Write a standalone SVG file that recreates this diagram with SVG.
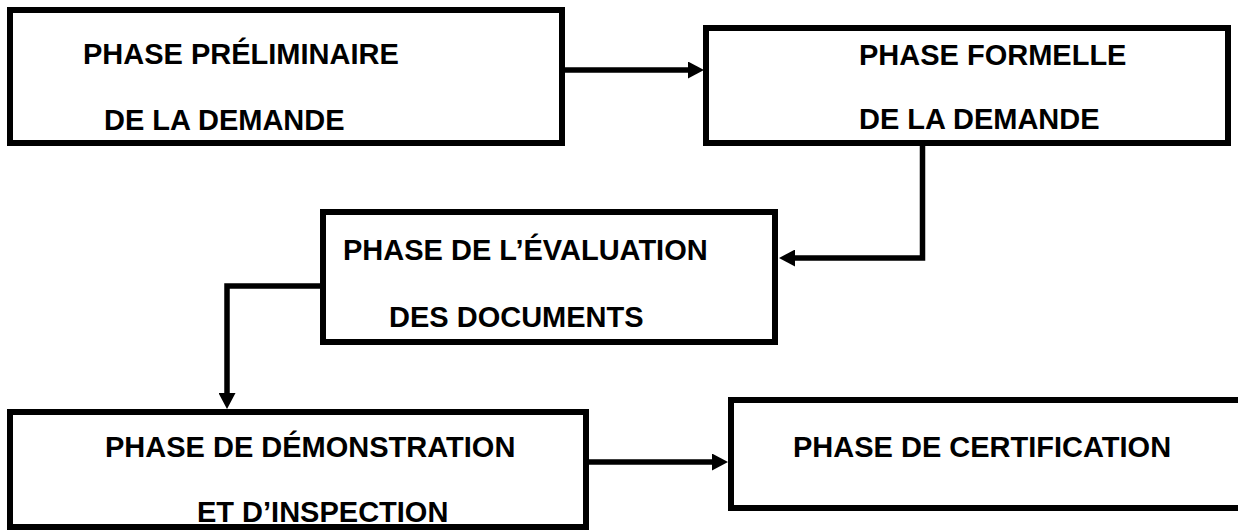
<svg xmlns="http://www.w3.org/2000/svg" width="1238" height="530" viewBox="0 0 1238 530">
<style>
.box{fill:#fff;stroke:#000;stroke-width:6}
.lbl{font-family:"Liberation Sans",Arial,sans-serif;font-weight:bold;font-size:29px;fill:#000}
.conn{fill:none;stroke:#000;stroke-width:5.5}
</style>
<defs>
<marker id="ah" markerUnits="userSpaceOnUse" markerWidth="16" markerHeight="17" refX="6" refY="8.5" orient="auto" viewBox="0 0 16 17">
<path d="M0,0 L16,8.5 L0,17 z" fill="#000"/>
</marker>
</defs>
<rect width="1238" height="530" fill="#fff"/>
<g id="node-preliminaire">
<rect class="box" x="10" y="10" width="552" height="133"/>
<text class="lbl" x="83" y="64">PHASE PRÉLIMINAIRE</text>
<text class="lbl" x="104" y="130">DE LA DEMANDE</text>
</g>
<g id="node-formelle">
<rect class="box" x="706" y="28" width="522" height="115"/>
<text class="lbl" x="859" y="65">PHASE FORMELLE</text>
<text class="lbl" x="859" y="129">DE LA DEMANDE</text>
</g>
<g id="node-evaluation">
<rect class="box" x="323" y="212" width="452" height="130"/>
<text class="lbl" x="343" y="260">PHASE DE L’ÉVALUATION</text>
<text class="lbl" x="389" y="327">DES DOCUMENTS</text>
</g>
<g id="node-demonstration">
<rect class="box" x="10" y="412" width="576" height="115"/>
<text class="lbl" x="105" y="457">PHASE DE DÉMONSTRATION</text>
<text class="lbl" x="197" y="522">ET D’INSPECTION</text>
</g>
<g id="node-certification">
<rect class="box" x="731" y="400" width="520" height="108"/>
<text class="lbl" x="793" y="457">PHASE DE CERTIFICATION</text>
</g>
<g id="connectors">
<path class="conn" d="M565,70 H694" marker-end="url(#ah)"/>
<path class="conn" d="M922.5,146 V258 H789" marker-end="url(#ah)"/>
<path class="conn" d="M320,286 H227 V399" marker-end="url(#ah)"/>
<path class="conn" d="M589,462 H718" marker-end="url(#ah)"/>
</g>
</svg>
